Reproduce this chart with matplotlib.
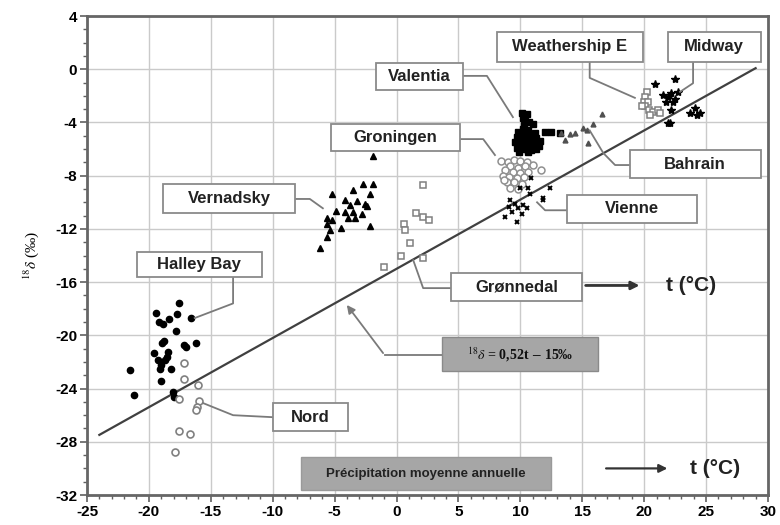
import numpy as np
import matplotlib.pyplot as plt
from matplotlib.patches import Rectangle

plt.rcParams['axes.unicode_minus'] = False
plt.rcParams['font.family'] = ['Liberation Sans', 'DejaVu Sans']
plt.rcParams['mathtext.fontset'] = 'stix'

# station data: temperature t (degC) and delta 18O (permil)
halley_t = [-17.6, -19.45, -17.7, -19.15, -18.35, -16.6, -18.9, -17.85, -18.75, -18.95, -17.2, -17.0,
            -16.2, -19.55, -18.45, -19.25, -18.7, -19.0, -18.25, -19.1, -21.55, -19.05, -21.2, -18.05,
            -17.95, -18.55]
halley_d = [-17.55, -18.3, -18.4, -19.0, -18.8, -18.7, -19.15, -19.7, -20.45, -20.6, -20.75, -20.9,
            -20.6, -21.3, -21.25, -21.85, -21.85, -22.25, -22.55, -22.5, -22.6, -23.45, -24.45, -24.25,
            -24.6, -21.6]

nord_t = [-17.15, -17.2, -16.0, -17.6, -15.95, -16.15, -16.2, -17.55, -16.65, -17.9]
nord_d = [-22.1, -23.3, -23.75, -24.8, -24.9, -25.4, -25.6, -27.2, -27.45, -28.8]

vernadsky_t = [-1.9, -5.2, -3.5, -2.7, -1.9, -2.15, -4.15, -3.2, -2.55, -3.75, -4.85, -4.15, -3.5,
               -2.8, -2.4, -5.65, -5.25, -3.9, -3.35, -5.65, -4.45, -5.35, -2.15, -5.65, -6.15]
vernadsky_d = [-6.55, -9.35, -9.1, -8.65, -8.65, -9.35, -9.85, -9.9, -10.1, -10.2, -10.65, -10.7,
               -10.7, -10.85, -10.3, -11.15, -11.35, -11.2, -11.2, -11.6, -11.95, -12.05, -11.8,
               -12.6, -13.4]

gronnedal_t = [2.1, 1.6, 2.15, 2.65, 0.6, 0.65, 1.1, 0.4, 2.15, -1.0]
gronnedal_d = [-8.7, -10.8, -11.1, -11.3, -11.65, -12.1, -13.05, -14.05, -14.15, -14.9]

groningen_t = [8.4, 9.0, 9.5, 10.0, 10.5, 9.2, 9.8, 10.4, 11.0, 8.8, 9.4, 10.0, 10.6, 11.7, 8.6,
               9.1, 9.7, 10.3, 8.9, 9.5, 10.1, 9.2, 9.8, 8.7]
groningen_d = [-6.9, -7.0, -6.8, -6.9, -7.0, -7.3, -7.4, -7.3, -7.2, -7.6, -7.7, -7.8, -7.7, -7.6,
               -8.0, -8.1, -8.2, -8.1, -8.5, -8.5, -8.6, -8.9, -9.0, -8.3]

vienne_t = [10.9, 10.0, 10.65, 12.4, 10.8, 11.85, 9.15, 9.55, 10.25, 9.05, 9.85, 10.5, 9.3, 10.1,
            8.75, 9.7, 11.85]
vienne_d = [-8.2, -8.95, -8.95, -8.95, -9.35, -9.7, -9.85, -10.1, -10.2, -10.35, -10.45, -10.45,
            -10.7, -10.85, -11.1, -11.45, -9.85]

valentia_t = [10.1, 10.5, 10.2, 10.4, 10.3, 10.7, 11.0, 10.2, 10.6, 9.8, 10.0, 10.4, 10.8, 11.2,
              9.7, 10.1, 10.5, 10.9, 11.3, 11.6, 9.6, 10.0, 10.3, 10.7, 11.1, 11.5, 9.7, 10.1,
              10.5, 10.9, 11.3, 9.9, 10.6, 12.0, 12.5, 13.2]
valentia_d = [-3.3, -3.4, -3.7, -3.9, -4.2, -4.0, -4.1, -4.5, -4.6, -4.7, -4.9, -4.8, -4.9, -4.8,
              -5.1, -5.2, -5.1, -5.3, -5.2, -5.4, -5.5, -5.6, -5.5, -5.7, -5.6, -5.8, -5.9, -6.0,
              -6.0, -6.1, -6.0, -6.2, -6.2, -4.7, -4.75, -4.8]

bahrain_t = [16.6, 15.9, 15.35, 15.1, 14.4, 14.0, 13.6, 15.5, 13.3]
bahrain_d = [-3.4, -4.1, -4.6, -4.45, -4.8, -4.85, -5.3, -5.55, -4.8]

weather_t = [20.2, 20.05, 19.95, 20.3, 20.05, 20.35, 20.75, 21.15, 20.5, 21.3, 19.8]
weather_d = [-1.7, -2.05, -2.45, -2.45, -2.8, -3.05, -3.2, -3.05, -3.45, -3.3, -2.8]

midway_t = [20.9, 22.5, 22.75, 21.55, 21.95, 22.2, 21.8, 22.35, 22.5, 22.2, 22.1, 23.7, 24.1,
            24.25, 24.5, 21.95]
midway_d = [-1.1, -0.7, -1.7, -1.95, -2.05, -1.8, -2.45, -2.45, -2.2, -3.05, -4.05, -3.3, -2.95,
            -3.45, -3.3, -4.05]

# regression line  d18O = 0.52 t - 15
slope = 0.52
intercept = -15.0
line_t = [-24, 29]

fig = plt.figure(figsize=(7.8, 5.25), dpi=100)
ax = fig.add_axes([0.1115, 0.0571, 0.8731, 0.9124])
ax.set_xlim(-25, 30)
ax.set_ylim(-32, 4)
ax.set_xticks(np.arange(-25, 31, 5))
ax.set_yticks(np.arange(-32, 5, 4))
ax.set_xticks(np.arange(-25, 31, 1), minor=True)
ax.set_yticks(np.arange(-32, 5, 1), minor=True)
ax.grid(True, which='major', color='#cacaca', lw=1.0)
ax.set_axisbelow(True)
for s in ax.spines.values():
    s.set_color('#666666')
    s.set_linewidth(2)
ax.tick_params(which='major', direction='out', length=5, width=1.2, color='#606060',
               labelsize=11, pad=2)
ax.tick_params(which='minor', direction='out', length=3, width=1, color='#606060')
for lab in ax.get_xticklabels() + ax.get_yticklabels():
    lab.set_fontweight('bold')

lt = np.array(line_t)
ax.plot(lt, slope * lt + intercept, color='#404040', lw=1.6, zorder=2)

ax.plot(halley_t, halley_d, 'o', color='black', ms=4.5, zorder=3)
ax.plot(nord_t, nord_d, 'o', mfc='white', mec='#808080', mew=1.2, ms=5, zorder=3)
ax.plot(vernadsky_t, vernadsky_d, '^', color='black', ms=4.5, zorder=3)
ax.plot(gronnedal_t, gronnedal_d, 's', mfc='white', mec='#808080', mew=1.1, ms=4.5, zorder=3)
ax.plot(groningen_t, groningen_d, 'o', mfc='white', mec='#909090', mew=1.1, ms=5, zorder=3)
ax.plot(vienne_t, vienne_d, 'x', color='black', ms=3.5, mew=1.4, zorder=3)
ax.plot(valentia_t, valentia_d, 's', color='black', ms=4, zorder=3)
ax.plot(bahrain_t, bahrain_d, '^', color='#505050', ms=3.5, zorder=3)
ax.plot(weather_t, weather_d, 's', mfc='white', mec='#808080', mew=1.1, ms=4.5, zorder=3)
ax.plot(midway_t, midway_d, '*', color='black', ms=6, zorder=3)

# label boxes: text, x0, x1, y0, y1
boxes = [
    ('Weathership E', 8.1, 19.9, 0.55, 2.8),
    ('Midway', 21.9, 29.4, 0.55, 2.8),
    ('Valentia', -1.65, 5.35, -1.55, 0.45),
    ('Groningen', -5.3, 5.1, -6.15, -4.1),
    ('Vernadsky', -18.85, -8.2, -10.8, -8.6),
    ('Halley Bay', -20.95, -10.9, -15.6, -13.75),
    ('Bahrain', 18.85, 29.4, -8.2, -6.1),
    ('Vienne', 13.75, 24.25, -11.55, -9.45),
    ('Grønnedal', 4.4, 15.0, -17.45, -15.3),
    ('Nord', -10.0, -3.9, -27.2, -25.1),
]
for txt, x0, x1, y0, y1 in boxes:
    ax.add_patch(Rectangle((x0, y0), x1 - x0, y1 - y0, fc='white', ec='#8a8a8a', lw=1.3, zorder=4))
    ax.text((x0 + x1) / 2, (y0 + y1) / 2, txt, ha='center', va='center', fontsize=12,
            fontweight='bold', color='#222222', zorder=5)

# grey boxes
ax.add_patch(Rectangle((3.7, -22.7), 12.6, 2.55, fc='#a6a6a6', ec='#8a8a8a', lw=1, zorder=4))
ax.text(10.0, -21.45, r'$^{18}\delta$ = 0,52t $-$ 15‰', ha='center', va='center', fontsize=10,
        family='Liberation Serif', fontweight='bold', color='#111111', zorder=5)
ax.add_patch(Rectangle((-7.7, -31.65), 20.2, 2.5, fc='#a6a6a6', ec='#9a9a9a', lw=1, zorder=4))
ax.text(2.4, -30.4, 'Précipitation moyenne annuelle', ha='center', va='center', fontsize=9.5,
        fontweight='bold', color='#222222', zorder=5)

# leader lines
leaders = [
    ([15.6, 15.6, 19.25], [0.55, -0.65, -2.15]),
    ([23.95, 23.95, 22.9], [0.55, -1.05, -1.7]),
    ([5.35, 7.3, 9.4], [-0.5, -0.5, -3.6]),
    ([5.1, 7.0, 7.95], [-5.25, -5.25, -6.45]),
    ([-8.2, -7.0, -5.95], [-9.75, -9.75, -10.45]),
    ([-13.2, -13.2, -16.3], [-15.6, -17.6, -18.7]),
    ([18.85, 17.65, 16.7, 15.6], [-7.2, -7.2, -6.3, -4.6]),
    ([13.75, 12.0, 11.35], [-10.6, -10.6, -10.0]),
    ([4.4, 2.15, 1.35], [-16.45, -16.45, -14.35]),
    ([-10.0, -13.2, -15.6], [-26.15, -26.0, -25.1]),
    ([3.7, -0.95], [-21.5, -21.5]),
]
for xs, ys in leaders:
    ax.plot(xs, ys, color='#7a7a7a', lw=1.3, zorder=3)
ax.annotate('', xy=(-4.15, -17.55), xytext=(-0.95, -21.5),
            arrowprops=dict(arrowstyle='-|>', color='#7a7a7a', lw=1.3, mutation_scale=12), zorder=3)

# temperature arrows
ax.annotate('', xy=(19.85, -16.25), xytext=(15.05, -16.25),
            arrowprops=dict(arrowstyle='-|>', color='#333333', lw=2, mutation_scale=12), zorder=3)
ax.text(21.8, -16.25, 't (°C)', ha='left', va='center', fontsize=15, fontweight='bold', color='#222222')
ax.annotate('', xy=(22.1, -30.0), xytext=(16.7, -30.0),
            arrowprops=dict(arrowstyle='-|>', color='#333333', lw=1.6, mutation_scale=12), zorder=3)
ax.text(23.7, -30.0, 't (°C)', ha='left', va='center', fontsize=15, fontweight='bold', color='#222222')

ax.set_ylabel(r'$^{18}\delta$ (‰)', family='Liberation Serif', fontsize=11, labelpad=10)

fig.savefig('out.png', dpi=100)
